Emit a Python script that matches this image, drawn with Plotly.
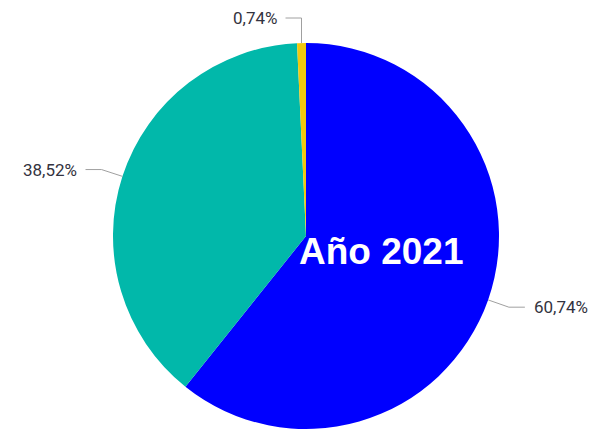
import math
import plotly.graph_objects as go

# Data
labels = ["Grupo A", "Grupo B", "Grupo C"]
values = [60.74, 38.52, 0.74]
colors = ["#0000FF", "#01B8AA", "#F2C80F"]
center_label = "Año 2021"

W, H = 598, 430
OFF = 8  # page body margin
CX, CY, R = 306, 236, 193  # pie centre and radius in screen pixels

def px(x):
    return (x - OFF) / W

def py(y):
    return 1 - (y - OFF) / H

fig = go.Figure(go.Pie(
    labels=labels,
    values=values,
    sort=False,
    direction="clockwise",
    rotation=0,
    marker=dict(colors=colors, line=dict(width=0)),
    textinfo="none",
    hoverinfo="label+percent",
    showlegend=False,
    domain=dict(x=[px(CX - R), px(CX + R)],
                y=[py(CY + R), py(CY - R)]),
))

total = sum(values)
cum = 0.0
shapes = []
annotations = []
for v in values:
    mid = (cum + v / 2) / total * 2 * math.pi
    cum += v
    s, c = math.sin(mid), math.cos(mid)
    x0, y0 = CX + R * s, CY - R * c
    if abs(s) < 0.1:
        x1, y1 = x0, 18
    else:
        x1, y1 = CX + (R + 22) * s, CY - (R + 22) * c
    side = 1 if s > 0.1 else -1
    x2 = x1 + side * 16
    shapes.append(dict(type="path", xref="paper", yref="paper",
                       path=f"M {px(x0)} {py(y0)} L {px(x1)} {py(y1)} L {px(x2)} {py(y1)}",
                       line=dict(color="#a0a0a0", width=1)))
    txt = f"{v:.2f}".replace(".", ",") + "%"
    annotations.append(dict(x=px(x2 + side * 7), y=py(y1), xref="paper", yref="paper",
                            text=txt, showarrow=False,
                            xanchor="left" if side > 0 else "right", yanchor="middle",
                            font=dict(family="Roboto, sans-serif",
                                      size=17, color="#333340")))

annotations.append(dict(x=px(381), y=py(251), xref="paper", yref="paper",
                        text=f"<b>{center_label}</b>", showarrow=False,
                        xanchor="center", yanchor="middle",
                        font=dict(family="Liberation Sans, Arial, sans-serif",
                                  size=37, color="#FFFFFF")))

fig.update_layout(
    width=W, height=H,
    margin=dict(l=0, r=0, t=0, b=0),
    paper_bgcolor="white",
    plot_bgcolor="white",
    shapes=shapes,
    annotations=annotations,
)

fig.write_html("out.html")
